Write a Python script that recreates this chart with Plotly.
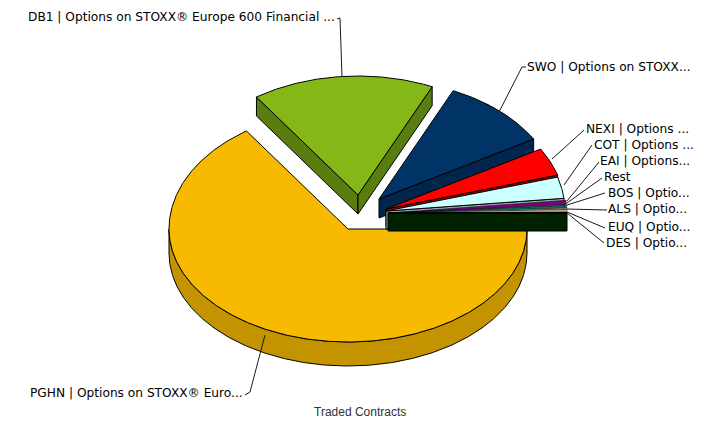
import numpy as np
import plotly.graph_objects as go

# --- data ---------------------------------------------------------------
labels = ["PGHN | Options on STOXX® Euro...",
          "DB1 | Options on STOXX® Europe 600 Financial ...",
          "SWO | Options on STOXX...",
          "NEXI | Options ...",
          "COT | Options ...",
          "EAI | Options...",
          "Rest",
          "BOS | Optio...",
          "ALS | Optio...",
          "EUQ | Optio...",
          "DES | Optio..."]
values = [65.4, 16.4, 9.8, 3.8, 2.9, 0.55, 0.2, 0.28, 0.2, 0.33, 0.14]

# --- style --------------------------------------------------------------
top_colors = ["#F7BA00", "#85B817", "#003366", "#FF0000", "#CCFFFF", "#800080",
              "#4F7F7F", "#008080", "#999999", "#C8A878", "#003300"]
side_colors = ["#C49400", "#5A7D10", "#00264D", "#A80000", "#8FB3B3", "#5A005A",
               "#375959", "#005A5A", "#6B6B6B", "#8C7654", "#002200"]
centers = [(348, 229), (358, 195), (379, 199), (386, 209), (386, 211), (388, 213),
           (388, 213), (388, 213), (388, 213), (388, 213), (388, 213)]
depths = [24, 19, 19, 18, 18, 18, 18, 18, 18, 18, 18]
outline_widths = [1, 1, 1, 1, 1, 0.5, 0.4, 0.4, 0.4, 0.4, 1]
RX, RY_UP, RY_DOWN = 179, 119, 113

label_pos = [(28, 393), (26, 17), (525, 67), (584, 129), (592, 145), (598, 161),
             (602, 177), (606, 193), (606, 209), (606, 227), (604, 243)]
leaders = [[(245, 395), (250, 392), (265, 335)],
           [(337, 19), (340, 18), (342, 77)],
           [(526, 67), (522, 67), (499, 112)],
           [(584, 130), (552, 159)],
           [(592, 145), (564, 185)],
           [(599, 162), (567, 201)],
           [(602, 178), (567, 203)],
           [(605, 193), (567, 205)],
           [(607, 210), (567, 209)],
           [(605, 228), (567, 212)],
           [(604, 243), (567, 213)]]


def arc(center, a0, a1):
    t = np.radians(np.linspace(a0, a1, max(int(abs(a1 - a0) * 2), 2) + 1))
    s = np.sin(t)
    ry = np.where(s > 0, RY_UP, RY_DOWN)
    return center[0] + RX * np.cos(t), center[1] - ry * s


def poly(fig, x, y, fill, width=1):
    fig.add_trace(go.Scatter(x=np.append(x, x[0]), y=np.append(y, y[0]), mode="lines",
                             fill="toself", fillcolor=fill,
                             line=dict(color="#000000", width=width),
                             hoverinfo="skip", showlegend=False))


fig = go.Figure()
total = sum(values)
start = 0.0
for i, v in enumerate(values):
    end = start - 360.0 * v / total
    c, d = centers[i], depths[i]
    ax, ay = arc(c, start, end)
    if i == 0:
        # front rim of the large slice
        wx, wy = arc(c, 0, -180)
        poly(fig, np.r_[wx, wx[::-1]], np.r_[wy, wy[::-1] + d], side_colors[i])
    elif i < 5 or i == len(values) - 1:
        # radial cut walls that face the viewer
        for idx in ([0, -1] if i == 1 else [-1]):
            px, py = ax[idx], ay[idx]
            poly(fig, np.array([c[0], px, px, c[0]]),
                 np.array([c[1], py, py + d, c[1] + d]), side_colors[i])
    poly(fig, np.r_[c[0], ax], np.r_[c[1], ay], top_colors[i], outline_widths[i])
    start = end

for pts in leaders:
    fig.add_trace(go.Scatter(x=[p[0] for p in pts], y=[p[1] for p in pts], mode="lines",
                             line=dict(color="#1A1A1A", width=1),
                             hoverinfo="skip", showlegend=False))

for name, (x, y) in zip(labels, label_pos):
    fig.add_annotation(x=x, y=y, text=name, showarrow=False, xanchor="left", yanchor="middle",
                       font=dict(family="DejaVu Sans", size=12.2, color="#000000"))
fig.add_annotation(x=360, y=412, text="Traded Contracts", showarrow=False, xanchor="center",
                   yanchor="middle", font=dict(family="Liberation Sans", size=12, color="#333333"))

fig.update_xaxes(range=[0, 715], visible=False, fixedrange=True)
fig.update_yaxes(range=[421, 0], visible=False, fixedrange=True)
fig.update_layout(width=715, height=421, margin=dict(l=0, r=0, t=0, b=0),
                  plot_bgcolor="white", paper_bgcolor="white", showlegend=False)
fig.write_html("out.html", config={"displayModeBar": False},
               post_script="document.body.style.margin='0';document.body.style.overflow='hidden';")
